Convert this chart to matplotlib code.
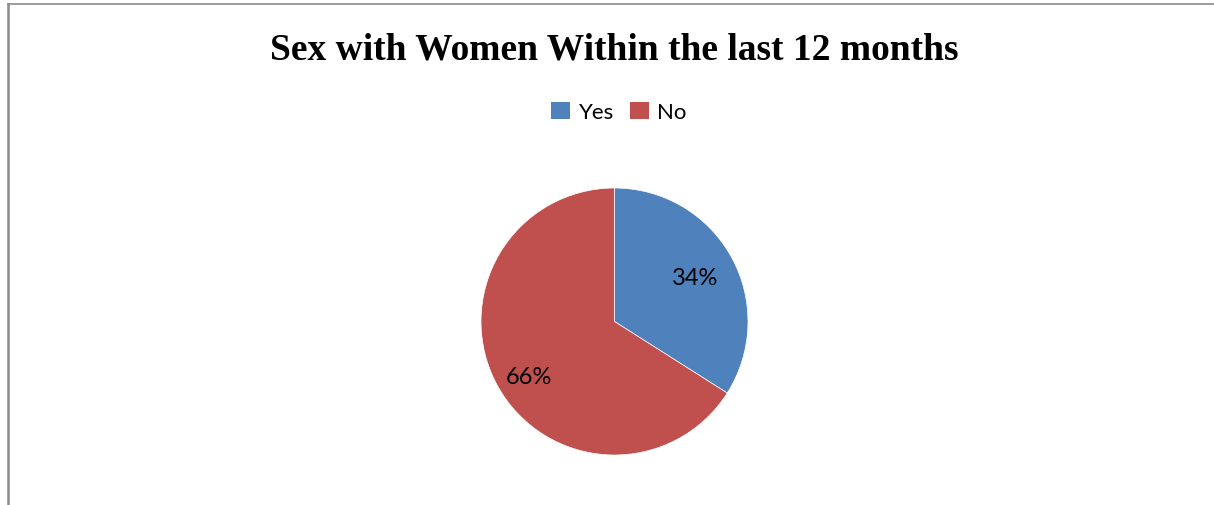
import numpy as np
import matplotlib
matplotlib.use("Agg")
import matplotlib.pyplot as plt
from matplotlib.lines import Line2D
from matplotlib.patches import Patch

categories = ["Yes", "No"]
shares = [34, 66]
colors = ["#4F81BD", "#C0504D"]
title = "Sex with Women Within the last 12 months"

W, H = 1214, 506
fig = plt.figure(figsize=(W / 100, H / 100), dpi=100)
fig.patch.set_facecolor("white")

# chart-area frame: top and left edges
fig.add_artist(Line2D([8 / W, 1], [1 - 5 / H, 1 - 5 / H], color="#8a8a8a", lw=1.2))
fig.add_artist(Line2D([8 / W, 8 / W], [0, 1 - 5 / H], color="#8a8a8a", lw=1.8))

cx, cy, r = 614.5, 322.5, 133.5
ax = fig.add_axes([(cx - r) / W, (H - cy - r) / H, 2 * r / W, 2 * r / H])
wedges, texts, autotexts = ax.pie(
    shares, colors=colors, startangle=90, counterclock=False,
    autopct="%1.0f%%", pctdistance=0.69, radius=1.0,
    wedgeprops=dict(linewidth=0.5, edgecolor="white"),
    textprops=dict(fontsize=17, family="Lato", color="black"),
)
# best-fit style label placement: nudge each label along its wedge
label_dist = [0.69, 0.76]
label_shift = [0.0, 4.0]
for w, t, d, s in zip(wedges, autotexts, label_dist, label_shift):
    ang = np.deg2rad((w.theta1 + w.theta2) / 2 + s)
    t.set_position((d * np.cos(ang), d * np.sin(ang)))

ax.set_xlim(-1, 1)
ax.set_ylim(-1, 1)
ax.set_aspect("equal")
ax.axis("off")

fig.text(cx / W, 1 - 50 / H, title, ha="center", va="center",
         fontsize=27, fontweight="bold", family="Liberation Serif")

handles = [Patch(facecolor=c, edgecolor="none") for c in colors]
fig.legend(handles, categories, loc="center", bbox_to_anchor=(619 / W, 1 - 113 / H),
           ncol=2, frameon=False, prop=dict(family="Lato", size=16),
           handlelength=0.85, handleheight=0.85, handletextpad=0.4, columnspacing=0.7)

fig.savefig("out.png", dpi=100, facecolor="white")
